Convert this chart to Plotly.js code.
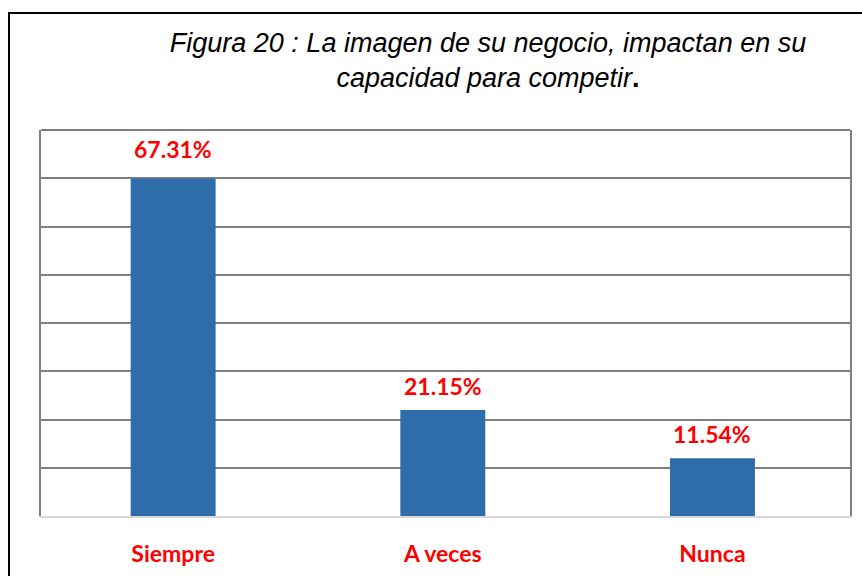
<!DOCTYPE html>
<html>
<head>
<meta charset="utf-8">
<script src="https://cdn.plot.ly/plotly-3.0.1.min.js"></script>
<style>html,body{margin:0;padding:0;background:#fff;}#chart{width:862px;height:576px;}</style>
</head>
<body>
<div id="chart"></div>
<script>
const categories = ["Siempre", "A veces", "Nunca"];
const values = [67.31, 21.15, 11.54];
const valueLabels = ["67.31%", "21.15%", "11.54%"];

const W = 862, H = 576;
const M = {l: 41, r: 12, t: 130, b: 60};
const pw = W - M.l - M.r, ph = H - M.t - M.b;
const yMax = 77;

const trace = {
  type: 'bar',
  x: categories,
  y: values,
  width: 0.315,
  marker: {color: '#2E6DA9', line: {width: 0}},
  hoverinfo: 'skip'
};

const annotations = categories.map((c, i) => ({
  x: c, y: values[i], xref: 'x', yref: 'y',
  text: '<b>' + valueLabels[i] + '</b>',
  showarrow: false, yanchor: 'middle', yshift: i === 0 ? 30 : 24,
  font: {family: 'Lato, sans-serif', size: 23, color: '#FF0000'}
}));

const shapes = [
  {type: 'line', xref: 'paper', yref: 'paper', x0: 0, x1: 1, y0: 1, y1: 1,
   line: {color: '#808080', width: 2}},
  {type: 'rect', xref: 'paper', yref: 'paper',
   x0: (9 - M.l) / pw, x1: 1.2, y0: -0.4, y1: (H - M.b - 13) / ph,
   line: {color: '#000000', width: 2}, fillcolor: 'rgba(0,0,0,0)', layer: 'below'}
];

const layout = {
  width: W, height: H,
  margin: M,
  paper_bgcolor: '#ffffff', plot_bgcolor: '#ffffff',
  showlegend: false,
  title: {
    text: 'Figura 20 : La imagen de su negocio, impactan en su<br>capacidad para competir<span style="font-style:normal"><b>.</b></span>',
    font: {family: '"Liberation Sans", Arial, sans-serif', size: 27, color: '#000000', style: 'italic'},
    x: 488 / W, xanchor: 'center', xref: 'container',
    y: 1 - 52 / H, yanchor: 'middle', yref: 'container'
  },
  xaxis: {
    type: 'category',
    range: [-0.49, 2.51],
    showline: true, linecolor: '#D9D9D9', linewidth: 2,
    showgrid: false, zeroline: false,
    ticks: 'outside', ticklen: 16, tickcolor: 'rgba(0,0,0,0)',
    tickfont: {family: 'Lato, sans-serif', size: 23, color: '#FF0000', weight: 'bold'},
    fixedrange: true
  },
  yaxis: {
    range: [0, yMax], dtick: yMax / 8, tick0: 0,
    showticklabels: false, ticks: '',
    showgrid: true, gridcolor: '#808080', gridwidth: 2,
    zeroline: false,
    showline: true, mirror: true, linecolor: '#808080', linewidth: 2,
    fixedrange: true
  },
  annotations: annotations,
  shapes: shapes
};

Plotly.newPlot('chart', [trace], layout, {displayModeBar: false, staticPlot: true});
</script>
</body>
</html>
